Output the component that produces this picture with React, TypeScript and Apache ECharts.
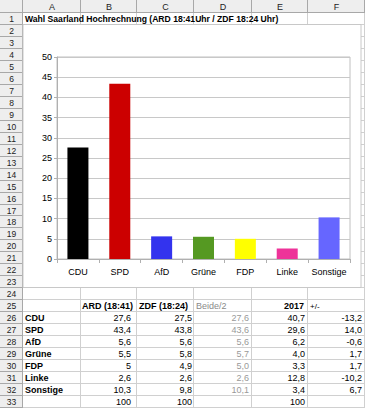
import React, { useEffect, useRef } from "react";
import * as echarts from "echarts";

const title = "Wahl Saarland Hochrechnung (ARD 18:41Uhr / ZDF 18:24 Uhr)";
const categories = ["CDU", "SPD", "AfD", "Grüne", "FDP", "Linke", "Sonstige"];
const ard = [27.6, 43.4, 5.6, 5.5, 5, 2.6, 10.3];
const zdf = [27.5, 43.8, 5.6, 5.8, 4.9, 2.6, 9.8];
const beide = [27.6, 43.6, 5.6, 5.7, 5.0, 2.6, 10.1];
const y2017 = [40.7, 29.6, 6.2, 4.0, 3.3, 12.8, 3.4];
const diff = [-13.2, 14.0, -0.6, 1.7, 1.7, -10.2, 6.7];
const totals = { ard: 100, zdf: 100, y2017: 100 };
const colors = ["#000000", "#cc0000", "#3333ee", "#559922", "#ffff00", "#ee3399", "#6666ff"];
const yTicks = { min: 0, max: 50, interval: 5 };
const columnLetters = ["A", "B", "C", "D", "E", "F"];

const FONT = '"Liberation Sans", Arial, sans-serif';
const COLX = [0, 23, 81, 137, 194, 252, 308, 365];
const HEAD_H = 13;
const ROW_H = 11.97;
const NROWS = 33;
const rowTop = (n: number) => HEAD_H + (n - 1) * ROW_H;
const rowMid = (n: number) => rowTop(n) + ROW_H / 2;

const fmtGeneral = (v: number) => String(v).replace(".", ",");
const fmt1 = (v: number) => v.toFixed(1).replace(".", ",");

function buildGraphics() {
  const els: any[] = [];
  const text = (t: string, x: number, y: number, opts: any = {}) =>
    els.push({
      type: "text",
      x,
      y,
      z: -6,
      style: {
        text: t,
        fill: opts.fill || "#000",
        font: `${opts.bold ? "bold " : ""}${opts.size || 9}px ${FONT}`,
        align: opts.align || "left",
        verticalAlign: "middle",
      },
    });
  const line = (x1: number, y1: number, x2: number, y2: number, stroke: string, z = -8) =>
    els.push({ type: "line", z, shape: { x1, y1, x2, y2 }, style: { stroke, lineWidth: 1 } });

  els.push({ type: "rect", z: -10, shape: { x: 0, y: 0, width: 365, height: 408 }, style: { fill: "#ffffff" } });
  els.push({ type: "rect", z: -9, shape: { x: 0, y: 0, width: 365, height: HEAD_H }, style: { fill: "#eeeeee" } });
  els.push({ type: "rect", z: -9, shape: { x: 0, y: 0, width: COLX[1], height: 408 }, style: { fill: "#eeeeee" } });

  // cell grid
  for (let n = 1; n <= NROWS; n++) {
    const y = Math.round(rowTop(n + 1)) - 0.5;
    line(0, y, COLX[1], y, "#a8a8a8");
    line(COLX[1], y, 365, y, "#d0d0d0");
  }
  for (let i = 1; i < COLX.length; i++) {
    const x = COLX[i] - 0.5;
    line(x, 0, x, HEAD_H, "#a8a8a8");
    line(x, HEAD_H, x, 408, i === 1 ? "#a8a8a8" : "#d0d0d0");
  }
  line(0, HEAD_H - 0.5, 365, HEAD_H - 0.5, "#a8a8a8");

  columnLetters.forEach((c, i) => text(c, (COLX[i + 1] + COLX[i + 2]) / 2, HEAD_H / 2 + 0.5, { align: "center", fill: "#222" }));
  for (let n = 1; n <= NROWS; n++) text(String(n), COLX[1] / 2, rowMid(n), { align: "center", fill: "#222", size: 8.5 });

  // chart object frame
  els.push({
    type: "rect",
    z: -7,
    shape: { x: COLX[1], y: Math.round(rowTop(2)) - 0.5, width: 338, height: Math.round(rowTop(24)) - Math.round(rowTop(2)) },
    style: { fill: "#ffffff", stroke: "#c8c8c8", lineWidth: 1 },
  });

  text(title, 25, rowMid(1), { bold: true, size: 8.6 });

  // table
  const hr = 25;
  text("ARD (18:41)", 82, rowMid(hr), { bold: true });
  text("ZDF (18:24)", 139, rowMid(hr), { bold: true });
  text("Beide/2", 196, rowMid(hr), { fill: "#8a8a8a" });
  text("2017", 304, rowMid(hr), { bold: true, align: "right" });
  text("+/-", 310, rowMid(hr), { size: 8 });
  categories.forEach((c, i) => {
    const r = 26 + i;
    const y = rowMid(r);
    text(c, 25, y, { bold: true });
    text(fmtGeneral(ard[i]), 131, y, { align: "right" });
    text(fmtGeneral(zdf[i]), 192, y, { align: "right" });
    text(fmt1(beide[i]), 249, y, { align: "right", fill: "#999999" });
    text(fmt1(y2017[i]), 305, y, { align: "right" });
    text(fmt1(diff[i]), 362, y, { align: "right" });
  });
  text(String(totals.ard), 131, rowMid(33), { align: "right" });
  text(String(totals.zdf), 192, rowMid(33), { align: "right" });
  text(String(totals.y2017), 305, rowMid(33), { align: "right" });
  return els;
}

export default function App() {
  const ref = useRef<HTMLDivElement>(null);
  useEffect(() => {
    if (!ref.current) return;
    const chart = echarts.init(ref.current, undefined, { renderer: "svg" });
    chart.setOption({
      animation: false,
      graphic: { elements: buildGraphics() },
      grid: {
        left: 57,
        right: 15,
        top: 57,
        bottom: 149,
        show: true,
        borderColor: "#c0c0c0",
        borderWidth: 1,
        backgroundColor: "transparent",
      },
      xAxis: {
        type: "category",
        data: categories,
        axisLine: { lineStyle: { color: "#b0b0b0" } },
        axisTick: { show: true, interval: 0, length: 4, lineStyle: { color: "#b0b0b0" } },
        axisLabel: { interval: 0, color: "#000", fontFamily: FONT, fontSize: 9, margin: 8 },
      },
      yAxis: {
        type: "value",
        min: yTicks.min,
        max: yTicks.max,
        interval: yTicks.interval,
        axisLine: { show: true, lineStyle: { color: "#b0b0b0" } },
        axisTick: { show: true, length: 3, lineStyle: { color: "#b0b0b0" } },
        axisLabel: { color: "#000", fontFamily: FONT, fontSize: 9, margin: 5 },
        splitLine: { lineStyle: { color: "#c8c8c8" } },
      },
      series: [
        {
          type: "bar",
          data: ard.map((v, i) => ({ value: v, itemStyle: { color: colors[i] } })),
          barWidth: 21,
        },
      ],
    });
    return () => chart.dispose();
  }, []);
  return <div ref={ref} style={{ position: "absolute", left: 0, top: 0, width: 365, height: 408 }} />;
}
